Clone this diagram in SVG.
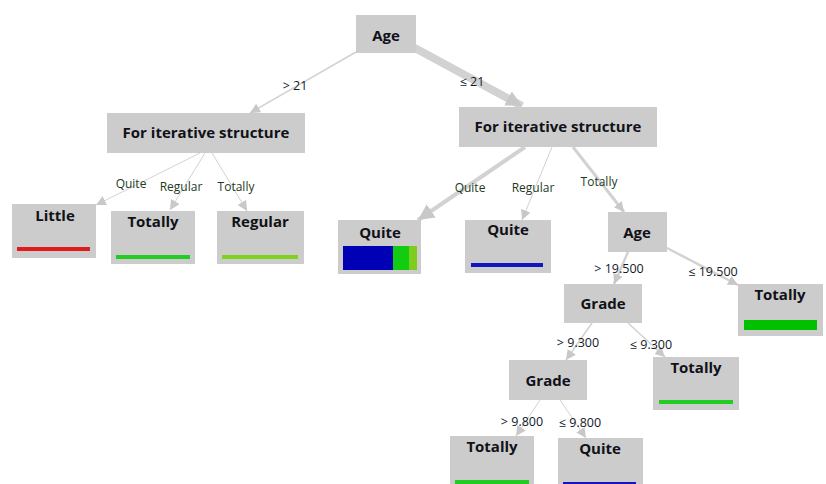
<svg xmlns="http://www.w3.org/2000/svg" width="826" height="484" viewBox="0 0 826 484">
<style>
.box{fill:#cccccc}
.nt{font-family:"Open Sans","Liberation Sans",sans-serif;font-weight:700;font-size:15px;fill:#111118;text-anchor:middle}
.el{font-family:"Open Sans","Liberation Sans",sans-serif;font-size:12.5px;fill:#111a2a;text-anchor:middle}
.elc{font-family:"Open Sans","Liberation Sans",sans-serif;font-size:12px;fill:#1c3a22;text-anchor:middle}
.e{stroke:#d2d2d2;fill:none}
</style>
<defs>
<marker id="a" markerUnits="userSpaceOnUse" markerWidth="10" markerHeight="10" viewBox="0 0 10 10" refX="10" refY="5" orient="auto"><path d="M0,0L10,5L0,10z" fill="#c8c8c8"/></marker>
<marker id="ab" markerUnits="userSpaceOnUse" markerWidth="16" markerHeight="16" viewBox="0 0 10 10" refX="10" refY="5" orient="auto"><path d="M0,0L10,5L0,10z" fill="#c8c8c8"/></marker>
</defs>
<rect width="826" height="484" fill="#ffffff"/>
<g id="edges">
<line class="e" x1="356" y1="52" x2="250" y2="113" stroke-width="1.5" marker-end="url(#a)"/>
<line class="e" x1="413" y1="47" x2="522" y2="106" stroke-width="8" marker-end="url(#ab)"/>
<line class="e" x1="200" y1="153" x2="96" y2="205" stroke-width="1" marker-end="url(#a)"/>
<line class="e" x1="205" y1="153" x2="170" y2="210" stroke-width="1" marker-end="url(#a)"/>
<line class="e" x1="212" y1="153" x2="247" y2="211" stroke-width="1" marker-end="url(#a)"/>
<line class="e" x1="525" y1="147" x2="418" y2="220" stroke-width="4" marker-end="url(#ab)"/>
<line class="e" x1="552" y1="147" x2="522" y2="220" stroke-width="1" marker-end="url(#a)"/>
<line class="e" x1="573" y1="147" x2="624" y2="212" stroke-width="3" marker-end="url(#a)"/>
<line class="e" x1="628" y1="252" x2="614" y2="284" stroke-width="2.5" marker-end="url(#a)"/>
<line class="e" x1="667" y1="248" x2="738" y2="285" stroke-width="2.5" marker-end="url(#a)"/>
<line class="e" x1="592" y1="323" x2="566" y2="360" stroke-width="1.5" marker-end="url(#a)"/>
<line class="e" x1="628" y1="323" x2="665" y2="357" stroke-width="1.5" marker-end="url(#a)"/>
<line class="e" x1="540" y1="400" x2="516" y2="436" stroke-width="1" marker-end="url(#a)"/>
<line class="e" x1="560" y1="400" x2="586" y2="438" stroke-width="1" marker-end="url(#a)"/>
<text class="el" x="295" y="90">&gt; 21</text>
<text class="el" x="472" y="86">≤ 21</text>
<text class="elc" x="131" y="188">Quite</text>
<text class="elc" x="181" y="191">Regular</text>
<text class="elc" x="236" y="191">Totally</text>
<text class="elc" x="470" y="192">Quite</text>
<text class="elc" x="533" y="192">Regular</text>
<text class="elc" x="599" y="186">Totally</text>
<text class="el" x="619" y="273">&gt; 19.500</text>
<text class="el" x="713" y="276">≤ 19.500</text>
<text class="el" x="578" y="347">&gt; 9.300</text>
<text class="el" x="651" y="349">≤ 9.300</text>
<text class="el" x="522" y="426">&gt; 9.800</text>
<text class="el" x="580" y="427">≤ 9.800</text>
</g>
<g id="n-root"><rect class="box" x="356" y="15" width="60" height="38"/><text class="nt" x="386" y="41">Age</text></g>
<g id="n-fis-left"><rect class="box" x="107" y="113" width="198" height="40"/><text class="nt" x="206" y="138">For iterative structure</text></g>
<g id="n-fis-right"><rect class="box" x="459" y="107" width="198" height="40"/><text class="nt" x="558" y="132">For iterative structure</text></g>
<g id="n-little"><rect class="box" x="12" y="204" width="84" height="54"/><text class="nt" x="55" y="221">Little</text><rect x="17" y="247" width="73" height="4" fill="#e01b1b"/></g>
<g id="n-totally1"><rect class="box" x="111" y="211" width="84" height="53"/><text class="nt" x="153" y="227">Totally</text><rect x="116" y="255" width="74" height="4" fill="#22cc22"/></g>
<g id="n-regular1"><rect class="box" x="217" y="211" width="87" height="53"/><text class="nt" x="260" y="227">Regular</text><rect x="222" y="255" width="76" height="4" fill="#7fd320"/></g>
<g id="n-quite-mix"><rect class="box" x="338" y="220" width="83" height="54"/><text class="nt" x="380" y="238">Quite</text><rect x="343" y="246" width="50" height="24" fill="#0000b4"/><rect x="393" y="246" width="16" height="24" fill="#11cc11"/><rect x="409" y="246" width="8" height="24" fill="#7fcc20"/></g>
<g id="n-quite-blue"><rect class="box" x="465" y="220" width="86" height="53"/><text class="nt" x="508" y="235">Quite</text><rect x="471" y="263" width="72" height="4" fill="#1414c0"/></g>
<g id="n-age2"><rect class="box" x="608" y="212" width="59" height="40"/><text class="nt" x="637" y="238">Age</text></g>
<g id="n-totally-r"><rect class="box" x="738" y="284" width="85" height="52"/><text class="nt" x="780" y="300">Totally</text><rect x="744" y="320" width="73" height="10" fill="#00c000"/></g>
<g id="n-grade1"><rect class="box" x="564" y="284" width="78" height="39"/><text class="nt" x="603" y="309">Grade</text></g>
<g id="n-totally-93"><rect class="box" x="653" y="357" width="86" height="53"/><text class="nt" x="696" y="373">Totally</text><rect x="659" y="400" width="74" height="4" fill="#22cc22"/></g>
<g id="n-grade2"><rect class="box" x="509" y="360" width="78" height="40"/><text class="nt" x="548" y="386">Grade</text></g>
<g id="n-totally-b"><rect class="box" x="450" y="436" width="84" height="54"/><text class="nt" x="492" y="452">Totally</text><rect x="455" y="480" width="74" height="4" fill="#22cc22"/></g>
<g id="n-quite-b"><rect class="box" x="558" y="438" width="85" height="52"/><text class="nt" x="600" y="454">Quite</text><rect x="563" y="482" width="73" height="4" fill="#1414c0"/></g>
</svg>
